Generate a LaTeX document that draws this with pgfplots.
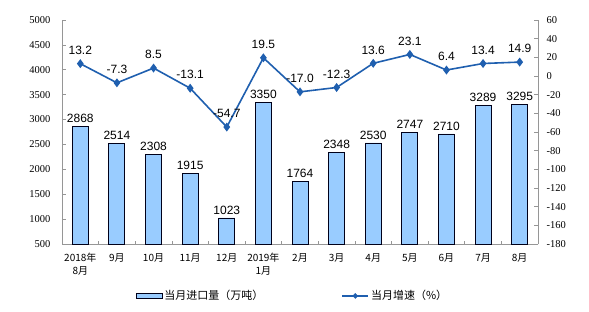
\documentclass[border=0pt]{standalone}
\usepackage{pgfplots}
\pgfplotsset{compat=1.18}
\usepackage{fontspec}
\setmainfont{Liberation Serif}
\setsansfont{Liberation Sans}
\newfontfamily\cjk{Noto Sans CJK SC}
\definecolor{barblue}{RGB}{153,204,255}
\definecolor{lineblue}{RGB}{31,95,175}
\definecolor{axgray}{RGB}{150,150,150}

\pgfplotstableread{
x y label
0 13.2 13.2
1 -7.3 -7.3
2 8.5 8.5
3 -13.1 -13.1
4 -54.7 -54.7
5 19.5 19.5
6 -17.0 -17.0
7 -12.3 -12.3
8 13.6 13.6
9 23.1 23.1
10 6.4 6.4
11 13.4 13.4
12 14.9 14.9
}\growth

\begin{document}
\begin{tikzpicture}[x=1pt,y=1pt]
\useasboundingbox (0,0) rectangle (589,311);
\pgfplotsset{
  common/.style={
    at={(62pt,67pt)}, anchor=south west,
    scale only axis, width=476pt, height=224pt,
    xmin=-0.5, xmax=12.5,
    /pgf/number format/assume math mode=true,
    /pgf/number format/1000 sep={},
    tick label style={font=\rmfamily\fontsize{10.5}{10.5}\selectfont, text=black},
    axis line style={draw=axgray, line width=0.6pt},
    tick style={draw=axgray, line width=0.6pt},
    tick align=inside,
    major tick length=4pt,
    minor tick length=3pt,
  }
}
\begin{axis}[common,
  ymin=500, ymax=5000,
  ytick={500,1000,...,5000},
  yticklabels={500,1000,1500,2000,2500,3000,3500,4000,4500,5000},
  y tick label style={xshift=-8pt},
  axis y line*=left, axis x line*=bottom,
  xtick={0,...,12},
  major x tick style={draw=none},
  minor xtick={-0.5,0.5,...,12.5},
  xticklabels={{2018年\\8月},9月,10月,11月,12月,{2019年\\1月},2月,3月,4月,5月,6月,7月,8月},
  x tick label style={font=\cjk\fontsize{10}{12.5}\selectfont, align=center, yshift=-6pt},
  clip=false,
]
\addplot[ybar, bar width=16pt, fill=barblue, draw=black!90!blue, line width=0.9pt,
  nodes near coords,
  nodes near coords style={font=\sffamily\fontsize{12}{12}\selectfont, text=black, anchor=south, yshift=0pt}]
 coordinates {(0,2868) (1,2514) (2,2308) (3,1915) (4,1023) (5,3350) (6,1764) (7,2348) (8,2530) (9,2747) (10,2710) (11,3289) (12,3295)};
\end{axis}
\begin{axis}[common,
  ymin=-180, ymax=60,
  ytick={-180,-160,...,60},
  yticklabels={-180,-160,-140,-120,-100,-80,-60,-40,-20,0,20,40,60},
  y tick label style={xshift=5pt},
  axis y line*=right, axis x line=none,
  clip=false,
  legend columns=2,
  legend style={at={(0.484,-0.232)}, anchor=center, draw=none, fill=none,
    font=\cjk\fontsize{11}{12}\selectfont,
    /tikz/every even column/.append style={column sep=76pt}},
]
\addlegendimage{legend image code/.code={\draw[fill=barblue, draw=black!90!blue, line width=0.9pt] (0pt,-2.3pt) rectangle (26pt,2.3pt);}}
\addlegendimage{legend image code/.code={\draw[lineblue, line width=1.6pt] (0pt,0pt) -- (26pt,0pt); \fill[lineblue] (13pt,0pt) +(-2.5pt,0pt) -- +(0pt,2.5pt) -- +(2.5pt,0pt) -- +(0pt,-2.5pt) -- cycle;}}
\addplot[forget plot, lineblue, line width=1.6pt, mark=diamond*, mark size=3.2pt,
  mark options={fill=lineblue, draw=lineblue},
  nodes near coords, point meta=explicit symbolic,
  nodes near coords style={font=\sffamily\fontsize{12}{12}\selectfont, text=black, anchor=south, yshift=5pt}]
 table[x=x, y=y, meta=label] {\growth};
\legend{当月进口量（万吨）, 当月增速（\%）}
\end{axis}
\end{tikzpicture}
\end{document}
